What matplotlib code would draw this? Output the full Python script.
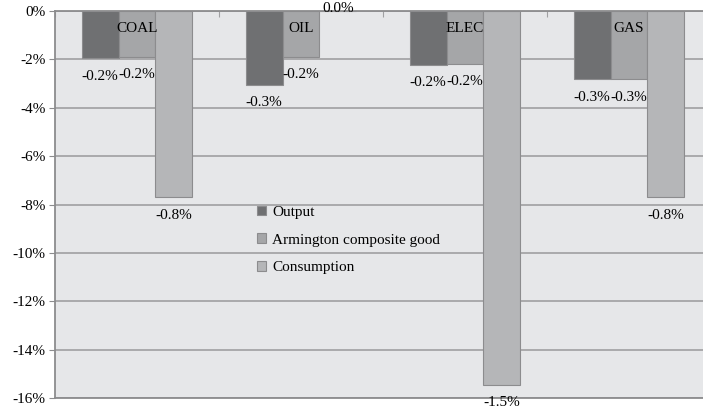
import numpy as np
import matplotlib.pyplot as plt

categories = ['COAL', 'OIL', 'ELEC', 'GAS']
series = ['Output', 'Armington composite good', 'Consumption']
output = [-1.95, -3.05, -2.23, -2.82]
armington = [-1.90, -1.90, -2.18, -2.82]
consumption = [-7.70, 0.0, -15.45, -7.70]
output_labels = ['-0.2%', '-0.3%', '-0.2%', '-0.3%']
armington_labels = ['-0.2%', '-0.2%', '-0.2%', '-0.3%']
consumption_labels = ['-0.8%', '0.0%', '-1.5%', '-0.8%']
yticks = [0, -2, -4, -6, -8, -10, -12, -14, -16]

colors = ['#6f7072', '#a5a6a8', '#b5b6b8']
bg = '#e6e7e9'
edge = '#8c8c8e'

plt.rcParams['font.family'] = ['Liberation Serif', 'DejaVu Serif']

fig = plt.figure(figsize=(7.03, 4.12), dpi=100)
W, H = 703, 412
left, right, top, bottom = 55, 711, 11, 398
ax = fig.add_axes([left / W, 1 - bottom / H, (right - left) / W, (bottom - top) / H])
ax.set_facecolor(bg)

x = np.arange(len(categories))
w = 0.225
data = [output, armington, consumption]
labels = [output_labels, armington_labels, consumption_labels]
for i, (vals, labs) in enumerate(zip(data, labels)):
    pos = x + (i - 1) * w
    ax.bar(pos, vals, w, color=colors[i], edgecolor=edge, linewidth=0.8,
           label=series[i], zorder=3)
    for px, v, lab in zip(pos, vals, labs):
        dy = 2 if v == 0 else -18
        ax.annotate(lab, (px, v), xytext=(0, dy), textcoords='offset pixels',
                    ha='center', va='center', fontsize=11, annotation_clip=False,
                    zorder=5)

for xi, c in zip(x, categories):
    ax.annotate(c, (xi, 0), xytext=(0, -17), textcoords='offset pixels',
                ha='center', va='center', fontsize=11, zorder=4)

ax.set_xlim(-0.5, len(categories) - 0.5)
ax.set_ylim(-16, 0)
ax.set_yticks(yticks)
ax.set_yticklabels([f'{t}%' for t in yticks], fontsize=11)
ax.yaxis.grid(True, color='#a0a0a2', linewidth=1.2, zorder=0)
ax.set_axisbelow(True)
ax.set_xticks(np.arange(len(categories) + 1) - 0.5)
ax.set_xticklabels([])
ax.tick_params(axis='x', direction='in', length=4, color='#a0a0a2', top=True, bottom=False)
ax.tick_params(axis='y', length=4, color='#8c8c8e', pad=3)
for s in ['left', 'top', 'bottom']:
    ax.spines[s].set_color('#8c8c8e')
    ax.spines[s].set_linewidth(1.3)
ax.spines['right'].set_visible(False)

fig.legend(loc='upper left', bbox_to_anchor=(243 / W, 1 - 192 / H), frameon=False,
           fontsize=11, handlelength=0.6, handleheight=0.6, handletextpad=0.4,
           labelspacing=0.95)

fig.savefig('out.png', dpi=100)
